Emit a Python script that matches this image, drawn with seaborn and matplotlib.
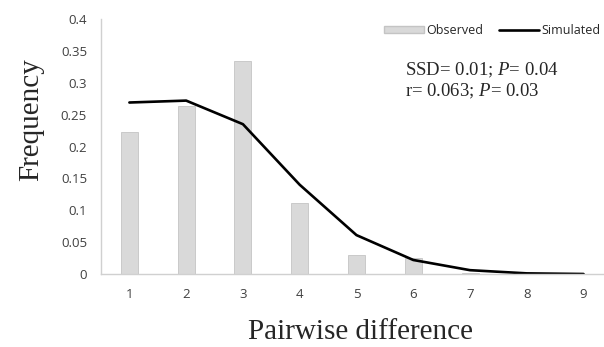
import matplotlib
matplotlib.use("Agg")
import matplotlib.pyplot as plt
import seaborn as sns
import pandas as pd
from matplotlib.patches import Patch
from matplotlib.lines import Line2D

# Data
differences = ["1", "2", "3", "4", "5", "6", "7", "8", "9"]
observed = [0.223, 0.264, 0.334, 0.112, 0.030, 0.025, 0.002, 0.0, 0.0]
simulated = [0.269, 0.272, 0.235, 0.140, 0.061, 0.022, 0.006, 0.001, 0.0]
y_ticks = [0, 0.05, 0.1, 0.15, 0.2, 0.25, 0.3, 0.35, 0.4]
y_tick_labels = ["0", "0.05", "0.1", "0.15", "0.2", "0.25", "0.3", "0.35", "0.4"]

df = pd.DataFrame({"diff": differences, "observed": observed, "simulated": simulated})

sns.set_style("white")
plt.rcParams["font.family"] = ["Open Sans", "DejaVu Sans"]
plt.rcParams["mathtext.fontset"] = "custom"
plt.rcParams["mathtext.it"] = "Liberation Serif:italic"
plt.rcParams["mathtext.rm"] = "Liberation Serif"

fig = plt.figure(figsize=(6.04, 3.47), dpi=100)
ax = fig.add_axes([101 / 604, 73 / 347, 503 / 604, 255 / 347])

sns.barplot(data=df, x="diff", y="observed", color="#d9d9d9", width=0.3,
            edgecolor="#c4c4c4", linewidth=0.6, saturation=1, ax=ax)
sns.lineplot(x=list(range(len(differences))), y=simulated, color="black",
             linewidth=1.9, ax=ax)

ax.set_xlim(-0.5, 8.36)
ax.set_ylim(0, 0.4)
ax.set_yticks(y_ticks)
ax.set_yticklabels(y_tick_labels)
ax.tick_params(axis="both", length=0, labelsize=9.5, colors="#404040")
ax.tick_params(axis="x", pad=10)
ax.tick_params(axis="y", pad=10)

for side in ["top", "right"]:
    ax.spines[side].set_visible(False)
for side in ["left", "bottom"]:
    ax.spines[side].set_color("#d0d0d0")
    ax.spines[side].set_linewidth(1.0)

ax.set_xlabel("Pairwise difference", family="Liberation Serif", fontsize=21)
ax.set_ylabel("Frequency", family="Liberation Serif", fontsize=21)
ax.xaxis.set_label_coords(0.515, -0.175)
ax.yaxis.set_label_coords(-0.113, 0.604)

handles = [Patch(facecolor="#d9d9d9", edgecolor="#c4c4c4", label="Observed"),
           Line2D([0], [0], color="black", linewidth=1.9, label="Simulated")]
ax.legend(handles=handles, loc="upper right", bbox_to_anchor=(1.015, 1.025), ncol=2,
          frameon=False, fontsize=9, handlelength=3.2, handleheight=0.6,
          columnspacing=1.2, handletextpad=0.2)

ax.text(0.604, 0.80, "SSD= 0.01; $\\it{P}$= 0.04", transform=ax.transAxes,
        family="Liberation Serif", fontsize=13.5, va="center")
ax.text(0.604, 0.715, "r= 0.063; $\\it{P}$= 0.03", transform=ax.transAxes,
        family="Liberation Serif", fontsize=13.5, va="center")

fig.savefig("out.png", dpi=100)
